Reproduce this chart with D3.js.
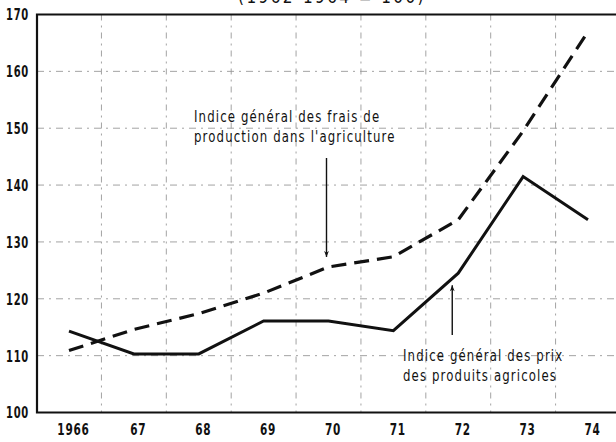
<!DOCTYPE html>
<html>
<head>
<meta charset="utf-8">
<script src="https://cdn.jsdelivr.net/npm/d3@7"></script>
<style>
  body { margin: 0; background: #fff; }
  svg { display: block; }
  .lbl { font-family: "Liberation Sans Narrow", "DejaVu Sans Condensed", "Arial Narrow", sans-serif; }
</style>
</head>
<body>
<svg id="chart" width="616" height="442"></svg>
<script>
const years = [1966, 1967, 1968, 1969, 1970, 1971, 1972, 1973, 1974];
const yearLabels = ["1966", "67", "68", "69", "70", "71", "72", "73", "74"];
// Indice général des prix des produits agricoles (solid)
const prixAgricoles = [114.3, 110.3, 110.3, 116.1, 116.1, 114.4, 124.5, 141.5, 133.9];
// Indice général des frais de production dans l'agriculture (dashed)
const fraisProduction = [110.9, 114.6, 117.4, 121, 125.6, 127.4, 133.9, 149.5, 167];
const yTicks = [100, 110, 120, 130, 140, 150, 160, 170];
const gridYears = [1966.5, 1967.5, 1968.5, 1969.5, 1970.5, 1971.5, 1972.5, 1973.5];

const svg = d3.select("#chart");
const plotLeft = 37, plotTop = 14.5, plotBottom = 412.5;

const x = d3.scaleLinear().domain([1966, 1974]).range([69, 588]);
const y = d3.scaleLinear().domain([100, 170]).range([plotBottom, plotTop]);

// grid
svg.append("g").selectAll("line").data(yTicks.filter(d => d > 100 && d < 170)).join("line")
  .attr("x1", plotLeft).attr("x2", 616)
  .attr("y1", d => y(d)).attr("y2", d => y(d))
  .attr("stroke", "#999").attr("stroke-width", 0.9)
  .attr("stroke-dasharray", "7,5,2,5");

svg.append("g").selectAll("line").data(gridYears).join("line")
  .attr("x1", d => x(d)).attr("x2", d => x(d))
  .attr("y1", plotTop).attr("y2", plotBottom)
  .attr("stroke", "#999").attr("stroke-width", 0.9)
  .attr("stroke-dasharray", "6,5,2,5");

// frame
svg.append("path")
  .attr("d", `M616,${plotTop}H${plotLeft}V${plotBottom}H616`)
  .attr("fill", "none").attr("stroke", "#111").attr("stroke-width", 2.2);

// axes (labels only)
const yAxis = svg.append("g").attr("transform", `translate(${plotLeft},0)`)
  .call(d3.axisLeft(y).tickValues(yTicks).tickSize(0).tickPadding(0).tickFormat(d3.format("d")));
const xAxis = svg.append("g").attr("transform", `translate(0,${plotBottom})`)
  .call(d3.axisBottom(x).tickValues(years).tickSize(0).tickPadding(0)
    .tickFormat((d, i) => yearLabels[i]));
[yAxis, xAxis].forEach(g => {
  g.select(".domain").remove();
  g.selectAll("text").attr("class", "lbl")
    .attr("font-size", 15).attr("font-weight", "bold").attr("fill", "#111")
    .attr("letter-spacing", 1);
});
yAxis.selectAll("text").attr("x", 0).attr("dy", "0.36em")
  .attr("transform", "translate(-8,0) scale(0.74,1)");
xAxis.selectAll("text").attr("y", 0).attr("dy", 0)
  .attr("transform", "translate(4,22) scale(0.78,1)");

// lines
const line = d3.line().x((d, i) => x(years[i])).y(d => y(d));
svg.append("path").datum(fraisProduction)
  .attr("d", line).attr("fill", "none").attr("stroke", "#111")
  .attr("stroke-width", 3.2).attr("stroke-dasharray", "15,8");
svg.append("path").datum(prixAgricoles)
  .attr("d", line).attr("fill", "none").attr("stroke", "#111")
  .attr("stroke-width", 3).attr("stroke-linejoin", "miter");

// arrows
svg.append("defs").append("marker")
  .attr("id", "arr").attr("viewBox", "0 0 10 10").attr("refX", 10).attr("refY", 5)
  .attr("markerWidth", 10).attr("markerHeight", 6).attr("markerUnits", "userSpaceOnUse")
  .attr("orient", "auto")
  .append("path").attr("d", "M0,1 L10,5 L0,9 L3,5 Z").attr("fill", "#111");

svg.append("line")
  .attr("x1", x(1970) - 2).attr("x2", x(1970) - 2)
  .attr("y1", 158).attr("y2", y(125.6) - 10)
  .attr("stroke", "#111").attr("stroke-width", 1.4).attr("marker-end", "url(#arr)");
svg.append("line")
  .attr("x1", x(1972) - 6).attr("x2", x(1972) - 6)
  .attr("y1", 335).attr("y2", y(124.5) + 12)
  .attr("stroke", "#111").attr("stroke-width", 1.4).attr("marker-end", "url(#arr)");

// annotations
const note = (tx, ty, lines) => {
  const t = svg.append("text").attr("class", "lbl")
    .attr("transform", `translate(${tx},${ty}) scale(0.87,1)`)
    .attr("font-size", 15).attr("fill", "#111")
    .attr("letter-spacing", 1.3);
  lines.forEach((s, i) => t.append("tspan").attr("x", 0).attr("y", i * 20.5).text(s));
};
note(194, 122, ["Indice général des frais de", "production dans l'agriculture"]);
note(403, 361, ["Indice général des prix", "des produits agricoles"]);

// cropped subtitle at the top
svg.append("text").attr("class", "lbl")
  .attr("x", 332).attr("y", 3).attr("text-anchor", "middle")
  .attr("font-size", 17).attr("fill", "#111").attr("letter-spacing", 2.4)
  .text("(1962-1964 = 100)");
</script>
</body>
</html>
